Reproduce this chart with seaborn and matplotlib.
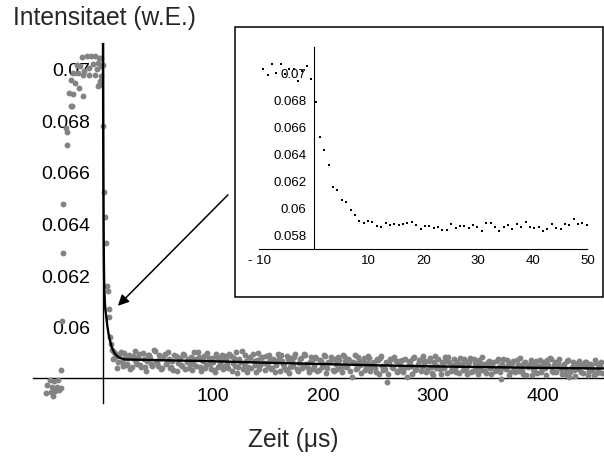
import matplotlib
matplotlib.use("Agg")
import matplotlib.pyplot as plt
from matplotlib.patches import Rectangle
from matplotlib.ticker import FixedLocator, FixedFormatter, MultipleLocator
import pandas as pd
import seaborn as sns

# ---------------- data ----------------
# main plot: rise before the pulse (time in us, intensity)
rise_t = [-51.8, -50.6, -48.0, -47.5, -46.4, -45.8, -44.5, -43.9, -42.1, -41.0,
          -40.3, -38.5, -37.9, -37.3, -36.7, -36.0, -33.6, -33.0, -32.5, -30.6,
          -29.5, -28.8, -28.2, -27.6, -27.0, -25.7, -24.0, -22.7, -21.5, -21.0,
          -19.0, -18.5, -17.9, -17.3, -14.8, -13.0, -12.5, -10.6, -8.8, -7.6,
          -7.0, -5.7, -4.5, -4.2, -3.9, -3.4, -2.7, -2.1, -1.8, -1.5, -0.3]
rise_v = [0.05747, 0.05777, 0.05796, 0.05750, 0.05770, 0.05737, 0.05793, 0.05753, 0.05770, 0.05799,
          0.05760, 0.05768, 0.05835, 0.06027, 0.06291, 0.06478, 0.06773, 0.06758, 0.06710, 0.06912,
          0.06858, 0.06960, 0.06860, 0.06907, 0.06988, 0.06950, 0.07019, 0.06988, 0.06930, 0.07014,
          0.07050, 0.06899, 0.06981, 0.06996, 0.07053, 0.07006, 0.06978, 0.07055, 0.07024, 0.06981,
          0.07055, 0.07004, 0.07027, 0.06937, 0.06940, 0.07047, 0.06958, 0.07014, 0.07046, 0.06976, 0.07019]

# main plot: fast decay
decay_t = [0.3, 1.1, 1.9, 2.7, 3.5, 4.3, 5.1, 5.9, 6.7, 7.5, 8.3, 9.1, 9.9, 10.7]
decay_v = [0.06783, 0.06527, 0.06430, 0.06328, 0.06162, 0.06142, 0.06072, 0.06040, 0.05963, 0.05935,
           0.05912, 0.05880, 0.05905, 0.05886]

# main plot: slow tail, even time samples
tail_t = [12, 14, 16, 18, 20, 22, 24, 26, 28, 30,
          32, 34, 36, 38, 40, 42, 44, 46, 48, 50,
          52, 54, 56, 58, 60, 62, 64, 66, 68, 70,
          72, 74, 76, 78, 80, 82, 84, 86, 88, 90,
          92, 94, 96, 98, 100, 102, 104, 106, 108, 110,
          112, 114, 116, 118, 120, 122, 124, 126, 128, 130,
          132, 134, 136, 138, 140, 142, 144, 146, 148, 150,
          152, 154, 156, 158, 160, 162, 164, 166, 168, 170,
          172, 174, 176, 178, 180, 182, 184, 186, 188, 190,
          192, 194, 196, 198, 200, 202, 204, 206, 208, 210,
          212, 214, 216, 218, 220, 222, 224, 226, 228, 230,
          232, 234, 236, 238, 240, 242, 244, 246, 248, 250,
          252, 254, 256, 258, 260, 262, 264, 266, 268, 270,
          272, 274, 276, 278, 280, 282, 284, 286, 288, 290,
          292, 294, 296, 298, 300, 302, 304, 306, 308, 310,
          312, 314, 316, 318, 320, 322, 324, 326, 328, 330,
          332, 334, 336, 338, 340, 342, 344, 346, 348, 350,
          352, 354, 356, 358, 360, 362, 364, 366, 368, 370,
          372, 374, 376, 378, 380, 382, 384, 386, 388, 390,
          392, 394, 396, 398, 400, 402, 404, 406, 408, 410,
          412, 414, 416, 418, 420, 422, 424, 426, 428, 430,
          432, 434, 436, 438, 440, 442, 444, 446, 448, 450, 452, 454]
tail_v = [0.05899, 0.05868, 0.05905, 0.05852, 0.05884, 0.05861, 0.05893, 0.05848, 0.05879, 0.05866,
          0.05888, 0.05857, 0.05901, 0.05846, 0.05872, 0.05895, 0.05859, 0.05915, 0.05870, 0.05851,
          0.05884, 0.05842, 0.05897, 0.05866, 0.05879, 0.05848, 0.05835, 0.05890, 0.05862, 0.05881,
          0.05853, 0.05894, 0.05867, 0.05845, 0.05886, 0.05859, 0.05878, 0.05904, 0.05849, 0.05874,
          0.05892, 0.05856, 0.05881, 0.05841, 0.05868, 0.05828, 0.05887, 0.05861, 0.05896, 0.05850,
          0.05877, 0.05843, 0.05889, 0.05864, 0.05852, 0.05826, 0.05880, 0.05908, 0.05859, 0.05871,
          0.05848, 0.05885, 0.05899, 0.05857, 0.05874, 0.05840, 0.05881, 0.05862, 0.05891, 0.05851,
          0.05876, 0.05844, 0.05828, 0.05869, 0.05883, 0.05896, 0.05858, 0.05835, 0.05879, 0.05849,
          0.05871, 0.05887, 0.05839, 0.05862, 0.05881, 0.05853, 0.05893, 0.05845, 0.05868, 0.05876,
          0.05850, 0.05884, 0.05837, 0.05871, 0.05858, 0.05889, 0.05843, 0.05866, 0.05879, 0.05832,
          0.05861, 0.05886, 0.05848, 0.05895, 0.05869, 0.05852, 0.05876, 0.05809, 0.05864, 0.05840,
          0.05886, 0.05855, 0.05871, 0.05835, 0.05862, 0.05881, 0.05846, 0.05866, 0.05829, 0.05874,
          0.05882, 0.05851, 0.05838, 0.05790, 0.05863, 0.05877, 0.05844, 0.05869, 0.05833, 0.05856,
          0.05873, 0.05842, 0.05809, 0.05866, 0.05850, 0.05882, 0.05835, 0.05861, 0.05876, 0.05846,
          0.05858, 0.05829, 0.05870, 0.05849, 0.05815, 0.05889, 0.05853, 0.05838, 0.05866, 0.05843,
          0.05872, 0.05886, 0.05834, 0.05857, 0.05845, 0.05868, 0.05826, 0.05859, 0.05878, 0.05839,
          0.05854, 0.05882, 0.05831, 0.05863, 0.05847, 0.05874, 0.05836, 0.05858, 0.05825, 0.05867,
          0.05843, 0.05861, 0.05832, 0.05871, 0.05849, 0.05803, 0.05880, 0.05838, 0.05856, 0.05828,
          0.05862, 0.05841, 0.05873, 0.05834, 0.05855, 0.05822, 0.05866, 0.05846, 0.05858, 0.05815,
          0.05837, 0.05869, 0.05851, 0.05828, 0.05860, 0.05843, 0.05874, 0.05882, 0.05833, 0.05855,
          0.05827, 0.05864, 0.05840, 0.05853, 0.05819, 0.05870, 0.05809, 0.05848, 0.05835, 0.05861,
          0.05839, 0.05858, 0.05824, 0.05867, 0.05846, 0.05831, 0.05855, 0.05815, 0.05862, 0.05837,
          0.05850, 0.05826]

# main plot: slow tail, odd time samples
tail2_t = [13, 15, 17, 19, 21, 23, 25, 27, 29, 31,
           33, 35, 37, 39, 41, 43, 45, 47, 49, 51,
           53, 55, 57, 59, 61, 63, 65, 67, 69, 71,
           73, 75, 77, 79, 81, 83, 85, 87, 89, 91,
           93, 95, 97, 99, 101, 103, 105, 107, 109, 111,
           113, 115, 117, 119, 121, 123, 125, 127, 129, 131,
           133, 135, 137, 139, 141, 143, 145, 147, 149, 151,
           153, 155, 157, 159, 161, 163, 165, 167, 169, 171,
           173, 175, 177, 179, 181, 183, 185, 187, 189, 191,
           193, 195, 197, 199, 201, 203, 205, 207, 209, 211,
           213, 215, 217, 219, 221, 223, 225, 227, 229, 231,
           233, 235, 237, 239, 241, 243, 245, 247, 249, 251,
           253, 255, 257, 259, 261, 263, 265, 267, 269, 271,
           273, 275, 277, 279, 281, 283, 285, 287, 289, 291,
           293, 295, 297, 299, 301, 303, 305, 307, 309, 311,
           313, 315, 317, 319, 321, 323, 325, 327, 329, 331,
           333, 335, 337, 339, 341, 343, 345, 347, 349, 351,
           353, 355, 357, 359, 361, 363, 365, 367, 369, 371,
           373, 375, 377, 379, 381, 383, 385, 387, 389, 391,
           393, 395, 397, 399, 401, 403, 405, 407, 409, 411,
           413, 415, 417, 419, 421, 423, 425, 427, 429, 431,
           433, 435, 437, 439, 441, 443, 445, 447, 449, 451, 453]
tail2_v = [0.05845, 0.05894, 0.05867, 0.05903, 0.05854, 0.05882, 0.05838, 0.05890, 0.05909, 0.05859,
           0.05899, 0.05847, 0.05878, 0.05834, 0.05894, 0.05884, 0.05850, 0.05911, 0.05863, 0.05896,
           0.05839, 0.05888, 0.05861, 0.05907, 0.05845, 0.05870, 0.05893, 0.05833, 0.05882, 0.05856,
           0.05898, 0.05841, 0.05880, 0.05864, 0.05837, 0.05906, 0.05852, 0.05887, 0.05831, 0.05869,
           0.05844, 0.05903, 0.05860, 0.05884, 0.05835, 0.05897, 0.05849, 0.05873, 0.05839, 0.05890,
           0.05858, 0.05897, 0.05832, 0.05881, 0.05906, 0.05846, 0.05868, 0.05840, 0.05893, 0.05829,
           0.05883, 0.05845, 0.05872, 0.05830, 0.05900, 0.05856, 0.05887, 0.05836, 0.05864, 0.05894,
           0.05839, 0.05880, 0.05857, 0.05898, 0.05831, 0.05871, 0.05847, 0.05890, 0.05826, 0.05884,
           0.05852, 0.05897, 0.05834, 0.05878, 0.05845, 0.05899, 0.05860, 0.05828, 0.05886, 0.05840,
           0.05888, 0.05831, 0.05873, 0.05849, 0.05895, 0.05826, 0.05866, 0.05885, 0.05837, 0.05879,
           0.05838, 0.05875, 0.05827, 0.05889, 0.05847, 0.05880, 0.05833, 0.05868, 0.05893, 0.05845,
           0.05870, 0.05825, 0.05884, 0.05846, 0.05891, 0.05832, 0.05863, 0.05842, 0.05879, 0.05820,
           0.05891, 0.05836, 0.05866, 0.05822, 0.05877, 0.05849, 0.05888, 0.05828, 0.05870, 0.05843,
           0.05829, 0.05880, 0.05847, 0.05869, 0.05822, 0.05885, 0.05839, 0.05874, 0.05834, 0.05889,
           0.05872, 0.05836, 0.05883, 0.05825, 0.05866, 0.05842, 0.05878, 0.05820, 0.05859, 0.05887,
           0.05824, 0.05866, 0.05840, 0.05879, 0.05829, 0.05861, 0.05884, 0.05835, 0.05870, 0.05822,
           0.05868, 0.05830, 0.05877, 0.05841, 0.05819, 0.05862, 0.05885, 0.05834, 0.05857, 0.05872,
           0.05821, 0.05866, 0.05838, 0.05879, 0.05827, 0.05859, 0.05845, 0.05873, 0.05816, 0.05862,
           0.05871, 0.05829, 0.05857, 0.05881, 0.05836, 0.05865, 0.05818, 0.05852, 0.05876, 0.05839,
           0.05860, 0.05823, 0.05874, 0.05840, 0.05866, 0.05815, 0.05855, 0.05878, 0.05829, 0.05868,
           0.05852, 0.05879, 0.05821, 0.05861, 0.05838, 0.05873, 0.05830, 0.05866, 0.05813, 0.05857,
           0.05872, 0.05827, 0.05854, 0.05868, 0.05818, 0.05860, 0.05835, 0.05874, 0.05823, 0.05851, 0.05866]

# fitted curve
fit_t = [0, 0.2, 0.4, 0.6, 0.8, 1.0, 1.3, 1.7, 2.2, 3, 4, 5, 6, 8, 10, 12, 15, 20, 50, 100,
         150, 200, 250, 300, 350, 400, 455]
fit_v = [0.0712, 0.0678, 0.0654, 0.0638, 0.0627, 0.0620, 0.0614, 0.0610, 0.0607, 0.06043,
         0.06007, 0.05978, 0.05956, 0.05924, 0.05905, 0.05893, 0.05883, 0.05877, 0.05874, 0.05870,
         0.05864, 0.05859, 0.05854, 0.05850, 0.05847, 0.05844, 0.05842]

# inset (zoom of -10 ... 50 us)
inset_t = [-9.3, -8.5, -7.7, -6.9, -6.1, -5.3, -4.5, -3.7, -2.9, -2.1, -1.3, -0.5,
           0.3, 1.1, 1.9, 2.7, 3.5, 4.3, 5.1, 5.9, 6.7, 7.5, 8.3, 9.1, 9.9, 10.7,
           11.5, 12.3, 13.1, 13.9, 14.7, 15.5, 16.3, 17.1, 17.9, 18.7, 19.5, 20.3, 21.1, 21.9,
           22.7, 23.5, 24.3, 25.1, 25.9, 26.7, 27.5, 28.3, 29.1, 29.9, 30.7, 31.5, 32.3, 33.1,
           33.9, 34.7, 35.5, 36.3, 37.1, 37.9, 38.7, 39.5, 40.3, 41.1, 41.9, 42.7, 43.5, 44.3,
           45.1, 45.9, 46.7, 47.5, 48.3, 49.1, 49.9]
inset_v = [0.07035, 0.06993, 0.07072, 0.07005, 0.07072, 0.07000, 0.07035, 0.07035, 0.06946, 0.07022,
           0.07059, 0.06963,
           0.06790, 0.06530, 0.06437, 0.06328, 0.06163, 0.06141, 0.06067, 0.06050, 0.05993, 0.05956,
           0.05913, 0.05894, 0.05911, 0.05901, 0.05876, 0.05869, 0.05896, 0.05884, 0.05889, 0.05884,
           0.05889, 0.05896, 0.05904, 0.05884, 0.05850, 0.05876, 0.05876, 0.05859, 0.05864, 0.05842,
           0.05842, 0.05889, 0.05859, 0.05876, 0.05876, 0.05859, 0.05884, 0.05864, 0.05839, 0.05894,
           0.05894, 0.05869, 0.05835, 0.05864, 0.05884, 0.05852, 0.05889, 0.05864, 0.05901, 0.05864,
           0.05859, 0.05864, 0.05839, 0.05852, 0.05889, 0.05859, 0.05852, 0.05889, 0.05884, 0.05926,
           0.05889, 0.05894, 0.05884]

main_xticks = [100, 200, 300, 400]
main_xlabels = ["100", "200", "300", "400"]
main_yticks = [0.060, 0.062, 0.064, 0.066, 0.068, 0.070]
main_ylabels = ["0.06", "0.062", "0.064", "0.066", "0.068", "0.07"]
inset_xticks = [-10, 10, 20, 30, 40, 50]
inset_xlabels = ["- 10", "10", "20", "30", "40", "50"]
inset_yticks = [0.058, 0.060, 0.062, 0.064, 0.066, 0.068, 0.070]
inset_ylabels = ["0.058", "0.06", "0.062", "0.064", "0.066", "0.068", "0.07"]

ylabel_text = "Intensitaet (w.E.)"
xlabel_text = "Zeit (\u03bcs)"

# ---------------- figure ----------------
sns.set_style("white")
plt.rcParams["font.family"] = ["Liberation Sans", "DejaVu Sans"]

W, H = 604, 457
fig = plt.figure(figsize=(W / 100, H / 100), dpi=100)
fig.patch.set_facecolor("white")

main_df = pd.DataFrame({"t": rise_t + decay_t + tail_t + tail2_t,
                        "v": rise_v + decay_v + tail_v + tail2_v})
fit_df = pd.DataFrame({"t": fit_t, "v": fit_v})
inset_df = pd.DataFrame({"t": inset_t, "v": inset_v})

# main axes
ax = fig.add_axes([33 / W, (H - 403) / H, 571 / W, 360 / H])
ax.set_zorder(0)
ax.patch.set_alpha(0)
sns.scatterplot(data=main_df, x="t", y="v", ax=ax, color="#838383", s=18,
                linewidth=0, zorder=3, clip_on=False, legend=False)
sns.lineplot(data=fit_df, x="t", y="v", ax=ax, color="black", linewidth=1.7,
             sort=False, estimator=None, zorder=4)
ax.set_xlim(-63.6, 455.5)
ax.set_ylim(0.05708, 0.07104)
ax.set_xlabel("")
ax.set_ylabel("")
for s in ["top", "right"]:
    ax.spines[s].set_visible(False)
ax.spines["left"].set_position(("data", 0))
ax.spines["bottom"].set_position(("data", 0.05804))
for s in ["left", "bottom"]:
    ax.spines[s].set_color("black")
    ax.spines[s].set_linewidth(1.0)
ax.xaxis.set_major_locator(FixedLocator(main_xticks))
ax.xaxis.set_major_formatter(FixedFormatter(main_xlabels))
ax.yaxis.set_major_locator(FixedLocator(main_yticks))
ax.yaxis.set_major_formatter(FixedFormatter(main_ylabels))
ax.xaxis.set_minor_locator(MultipleLocator(20))
ax.yaxis.set_minor_locator(MultipleLocator(0.0005))
ax.tick_params(which="major", direction="in", length=5, width=0.9, color="black",
               labelsize=14, labelcolor="black")
ax.tick_params(which="minor", direction="in", length=2.8, width=0.7, color="black")
ax.tick_params(axis="x", which="major", pad=7)
ax.tick_params(axis="y", which="major", pad=9)
ax.grid(False)

ax.annotate("", xy=(13.6, 0.06085), xytext=(113.6, 0.06515),
            xycoords="data", textcoords="data",
            arrowprops=dict(arrowstyle="-|>", color="black", lw=1.1,
                            mutation_scale=16, shrinkA=0, shrinkB=0))

# inset frame
frame = Rectangle((235 / W, (H - 297) / H), 367.5 / W, 270 / H, transform=fig.transFigure,
                  facecolor="white", edgecolor="black", linewidth=1.1, zorder=1)
fig.add_artist(frame)

# inset axes
axi = fig.add_axes([259.3 / W, (H - 249) / H, 328 / W, 202 / H])
axi.set_zorder(2)
axi.patch.set_alpha(0)
sns.scatterplot(data=inset_df, x="t", y="v", ax=axi, color="black", marker="s", s=4.5,
                linewidth=0, zorder=3, clip_on=False, legend=False)
axi.set_xlim(-10, 50)
axi.set_ylim(0.057037, 0.0720)
axi.set_xlabel("")
axi.set_ylabel("")
for s in ["top", "right"]:
    axi.spines[s].set_visible(False)
axi.spines["left"].set_position(("data", 0))
for s in ["left", "bottom"]:
    axi.spines[s].set_color("black")
    axi.spines[s].set_linewidth(0.8)
axi.xaxis.set_major_locator(FixedLocator(inset_xticks))
axi.xaxis.set_major_formatter(FixedFormatter(inset_xlabels))
axi.yaxis.set_major_locator(FixedLocator(inset_yticks))
axi.yaxis.set_major_formatter(FixedFormatter(inset_ylabels))
axi.xaxis.set_minor_locator(MultipleLocator(2))
axi.yaxis.set_minor_locator(MultipleLocator(0.0004))
axi.tick_params(which="major", direction="in", length=3.5, width=0.7, color="black",
                labelsize=9.5, labelcolor="black")
axi.tick_params(which="minor", direction="in", length=2, width=0.5, color="black")
axi.tick_params(axis="x", which="major", pad=4)
axi.tick_params(axis="y", which="major", pad=5.5)
axi.grid(False)

# axis titles
fig.text(13 / W, 1 - 25 / H, ylabel_text, fontsize=17.7, ha="left", va="baseline")
fig.text(248 / W, 1 - 447 / H, xlabel_text, fontsize=17.7, ha="left", va="baseline")

fig.savefig("out.png", dpi=100)
